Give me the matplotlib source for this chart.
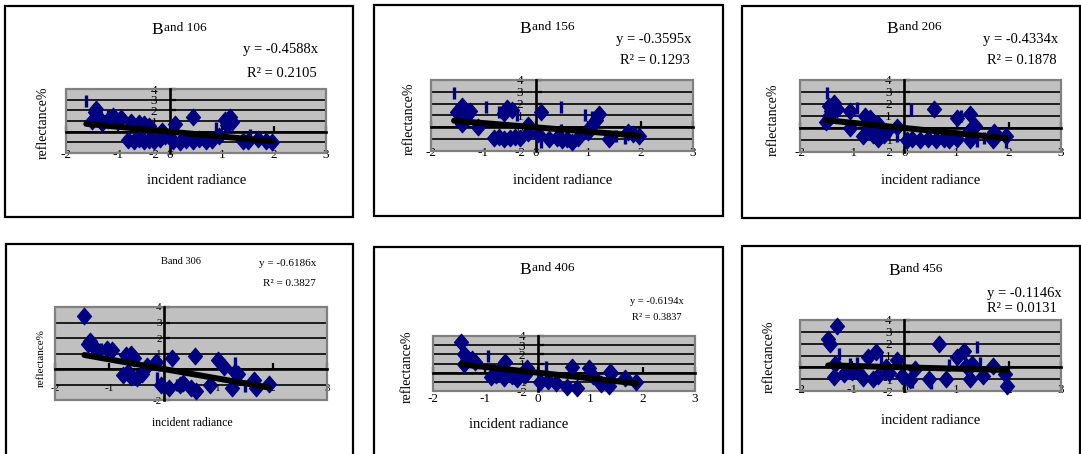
import matplotlib
matplotlib.use('Agg')
import matplotlib.pyplot as plt
from matplotlib.patches import Rectangle
from matplotlib.path import Path
import numpy as np

plt.rcParams['font.family'] = ['Liberation Serif', 'DejaVu Serif']
plt.rcParams['axes.unicode_minus'] = False

W, H = 1081, 454

# ---------------- data ----------------
bands = ["106", "156", "206", "306", "406", "456"]
slopes = [-0.4588, -0.3595, -0.4334, -0.6186, -0.6194, -0.1146]
r_squared = [0.2105, 0.1293, 0.1878, 0.3827, 0.3837, 0.0131]
x_ticks = [-2, -1, 0, 1, 2, 3]
y_ticks = [-2, -1, 0, 1, 2, 3, 4]
x_label = "incident radiance"
y_label = "reflectance%"

b106_x = [-1.45, -1.4, -1.35, -1.5, -1.3, -1.42, -1.1, -0.95, -1.2, -1.0, -0.75, -0.6, -0.5, -0.4,
          -0.8, -0.7, -0.6, -0.5, -0.4, -0.3, -0.2, -0.15, -0.1, 0.1, 0.45, 0.05, 0.2, 0.3, 0.45,
          0.55, 0.7, 0.8, 1.05, 1.15, 1.1, 1.2, 0.95, 1.4, 1.5, 1.7, 1.85, 1.97]
b106_y = [1.8, 1.5, 1.2, 1.0, 0.8, 2.1, 1.5, 1.3, 1.1, 1.0, 0.9, 0.8, 0.7, 0.5,
          -0.8, -0.9, -0.7, -0.9, -0.8, -0.9, -0.7, 0.1, -0.4, 0.7, 1.4, -0.9, -1.0, -0.8, -0.9,
          -0.7, -0.9, -0.8, 1.1, 1.4, 0.6, 0.9, -0.4, -0.9, -0.9, -0.7, -0.9, -1.0]
b106_bar_x = [-1.61, -1.2, -0.15, 0.89, 1.53]
b106_bar_y = [2.85, 1.5, -0.3, 0.3, -0.3]

b156_x = [-1.4, -1.35, -1.5, -1.3, -1.45, -1.4, -1.25, -1.1, -0.55, -0.45, -0.6, -0.8, -0.7, -0.6,
          -0.5, -0.4, -0.3, -0.15, -0.15, 0.05, 0.1, 0.25, 0.4, 0.5, 0.6, 0.7, 0.8, 1.2, 1.05, 1.0,
          1.15, 1.4, 1.75, 1.97, 1.85]
b156_y = [1.8, 1.5, 1.3, 1.1, 0.6, 0.3, 1.4, 0.0, 1.6, 1.5, 1.2, -0.9, -0.8, -1.0, -0.9, -0.8,
          -0.9, 0.2, -0.5, -0.6, 1.3, -1.0, -0.9, -1.1, -1.0, -1.2, -0.9, 1.1, 0.1, -0.4, 0.6,
          -1.0, -0.4, -0.7, -0.6]
b156_bar_x = [-1.56, -0.95, -0.7, -0.35, 0.1, 0.48, 0.93, 1.08, 1.53, 1.7, 0.48]
b156_bar_y = [2.9, 1.7, 1.3, 1.0, -1.2, 1.7, 1.0, 0.9, -0.7, -0.9, -0.2]

b206_x = [-1.45, -1.35, -1.4, -1.5, -1.45, -1.3, -1.05, -1.05, -0.75, -0.65, -0.6, -0.5, -0.7,
          -0.6, -0.5, -0.4, -0.35, -0.8, -0.15, 0.05, 0.15, 0.3, 0.45, 0.6, 0.75, 0.85, 1.0, 0.57,
          1.0, 1.25, 1.35, 1.25, 1.25, 1.72, 1.7, 1.95]
b206_y = [1.8, 2.1, 1.4, 0.5, 1.0, 1.6, 1.4, 0.0, 1.0, 0.8, 0.5, 0.3, -0.2, -0.6, -0.9, -0.6,
          -0.3, -0.7, 0.1, -1.0, -0.9, -1.0, -0.9, -1.0, -0.9, -1.0, -0.9, 1.6, 0.8, 1.2, 0.2,
          -0.2, -1.0, -0.3, -1.0, -0.7]
b206_bar_x = [-1.49, -0.9, -1.3, -0.15, 0.12, 1.08, 1.53, 1.4, 1.95]
b206_bar_y = [2.9, 1.7, 1.7, -0.7, 1.5, 1.0, -0.8, -1.1, -1.2]

b306_x = [-1.46, -1.35, -1.3, -1.4, -1.25, -1.05, -0.95, -0.7, -0.6, -0.55, -0.75, -0.6, -0.5,
          -0.65, -0.3, -0.15, -0.05, 0.15, 0.1, 0.35, 0.5, 0.6, 0.58, 0.85, 1.0, 1.1, 1.3, 1.37,
          1.25, 1.65, 1.7, 1.93, -0.4, 0.3]
b306_y = [3.4, 1.8, 1.5, 1.6, 1.3, 1.3, 1.2, 0.9, 1.0, 0.7, -0.4, -0.5, -0.6, -0.2, 0.2, 0.45,
          -1.0, 0.7, -1.2, -0.9, -1.2, -1.4, 0.85, -1.0, 0.55, 0.15, -0.2, -0.3, -1.2, -0.7,
          -1.2, -0.95, -0.3, -1.0]
b306_bar_x = [-1.15, -0.13, 1.3, -1.3, 0.25, 1.5]
b306_bar_y = [1.3, -0.6, 0.4, 1.3, -1.0, -1.1]

b406_x = [-1.46, -1.4, -1.35, -1.25, -1.4, -1.2, -0.63, -0.8, -0.65, -0.5, -0.4, -0.2, -0.25,
          0.05, 0.2, 0.35, 0.65, 0.55, 0.75, 0.98, 1.05, 1.2, 1.35, 1.4, 1.38, 1.67, 1.88,
          -0.7, -0.9]
b406_y = [3.4, 2.0, 1.6, 1.5, 1.0, 1.2, 1.2, -0.3, -0.6, -0.4, -0.7, 0.5, -0.2, -1.0, -0.9,
          -1.1, 0.6, -1.6, -1.7, 0.5, -0.4, -1.2, -1.4, 0.0, 0.1, -0.6, -1.0, 0.4, -0.5]
b406_bar_x = [-0.95, 0.16, -1.3]
b406_bar_y = [1.8, 0.6, 1.6]

b456_x = [-1.3, -1.46, -1.42, -1.33, -1.35, -1.15, -1.0, -0.7, -0.55, -0.8, -0.6, -0.5, -0.35,
          -0.15, -0.05, 0.1, 0.2, 0.47, 0.66, 0.8, 1.0, 1.15, 1.18, 1.25, 1.3, 1.5, 1.7, 1.93,
          1.97, -0.9, -0.3]
b456_y = [3.5, 2.4, 2.0, 0.3, -0.8, -0.6, -0.4, 0.9, 1.3, -0.9, -1.0, -0.7, 0.0, 0.6, -0.7,
          -1.1, -0.15, -1.0, 2.0, -1.0, 0.9, 1.4, 0.1, -1.0, 0.3, -0.7, 0.1, -0.6, -1.6, -0.3, -0.5]
b456_bar_x = [-1.26, -1.05, -0.9, 0.15, 0.5, 0.85, 1.4, 1.45, -0.45]
b456_bar_y = [1.1, 0.3, 0.4, -1.2, -1.3, 0.2, 1.7, 0.4, 0.8]

diamond_x = [b106_x, b156_x, b206_x, b306_x, b406_x, b456_x]
diamond_y = [b106_y, b156_y, b206_y, b306_y, b406_y, b456_y]
bar_x = [b106_bar_x, b156_bar_x, b206_bar_x, b306_bar_x, b406_bar_x, b456_bar_x]
bar_y = [b106_bar_y, b156_bar_y, b206_bar_y, b306_bar_y, b406_bar_y, b456_bar_y]

# ---------------- layout (pixels) ----------------
plot_boxes = [(66, 89, 326, 153), (431, 80, 693, 151), (800, 80, 1061, 152),
              (55, 307, 327, 400), (433, 336, 695, 391), (800, 320, 1061, 391)]
frames = [(5, 6, 353, 217), (374, 5, 723, 216), (742, 6, 1080, 218),
          (6, 244, 353, 470), (374, 247, 723, 470), (742, 246, 1080, 470)]
title_pos = [(179, 34, 31), (547, 33, 30), (914, 33, 30), (181, 264, 264), (547, 274, 271), (915, 275, 272)]
eq_pos = [(281, 50), (654, 39), (1021, 39), (288, 264), (657, 302), (1024, 293)]
r2_pos = [(282, 74), (655, 61), (1022, 61), (289, 283), (657, 318), (1022, 308)]
ylabel_pos = [(43, 123), (409, 119), (773, 120), (41, 358), (407, 367), (769, 357)]
xlabel_pos = [(197, 181), (563, 181), (931, 181), (192, 423), (519, 425), (931, 420)]
eq_size = [10.5, 10.5, 10.5, 8, 7.5, 10.5]
label_size = [10.5, 10.5, 10.5, 8.5, 10.5, 10.5]
tick_size = [9.5, 9.5, 9.5, 8, 9.5, 9.5]
xpad = [12.5, 14, 14, 10.5, 15, 12]

NAVY = '#000080'
diamond = Path([(0, 1), (0.85, 0), (0, -1), (-0.85, 0), (0, 1)],
               [Path.MOVETO, Path.LINETO, Path.LINETO, Path.LINETO, Path.CLOSEPOLY])


def fx(px):
    return px / W


def fy(py):
    return 1 - py / H


fig = plt.figure(figsize=(W / 100, H / 100), dpi=100)
fig.patch.set_facecolor('white')
renderer = fig.canvas.get_renderer()

for i in range(6):
    # frame
    l, t, r, b = frames[i]
    fig.add_artist(Rectangle((fx(l), fy(b)), (r - l) / W, (b - t) / H, transform=fig.transFigure,
                             fill=False, ec='black', lw=1.6))
    x0, y0, x1, y1 = plot_boxes[i]
    ax = fig.add_axes([fx(x0), fy(y1), (x1 - x0) / W, (y1 - y0) / H])
    ax.set_xlim(x_ticks[0], x_ticks[-1])
    ax.set_ylim(y_ticks[0], y_ticks[-1])
    ax.set_facecolor('#C0C0C0')
    ax.set_xticks(x_ticks)
    ax.set_xticklabels([str(v) for v in x_ticks])
    ax.set_yticks(y_ticks)
    ax.set_yticklabels([str(v) for v in y_ticks])
    ax.yaxis.grid(True, color='black', lw=1.2)
    for s in ['top', 'right']:
        ax.spines[s].set_visible(False)
    ax.spines['bottom'].set_position(('data', 0))
    ax.spines['left'].set_position(('data', 0))
    ax.spines['bottom'].set_linewidth(1.9)
    ax.spines['left'].set_linewidth(1.9)
    ax.add_patch(Rectangle((0, 0), 1, 1, transform=ax.transAxes, fill=False,
                           ec='#808080', lw=1.6, clip_on=False, zorder=2.4))
    ax.tick_params(axis='x', direction='in', length=4, width=1.6, labelsize=tick_size[i], pad=xpad[i])
    if i == 3:
        ax.tick_params(axis='y', direction='in', length=4, width=1.6, labelsize=tick_size[i], pad=1.5)
    else:
        ax.tick_params(axis='y', direction='in', length=4, width=1.6, labelsize=tick_size[i], pad=11.5)
        for lab in ax.get_yticklabels():
            lab.set_horizontalalignment('center')

    ax.plot(diamond_x[i], diamond_y[i], ls='none', marker=diamond, ms=12, mfc=NAVY, mec=NAVY,
            mew=0.8, clip_on=False, zorder=3)
    ax.plot(bar_x[i], bar_y[i], ls='none', marker='|', ms=9, mew=2.4, color=NAVY,
            clip_on=False, zorder=3)
    allx = np.array(diamond_x[i] + bar_x[i])
    tx = np.array([allx.min(), allx.max()])
    ax.plot(tx, slopes[i] * tx, color='black', lw=4.3, solid_capstyle='round', zorder=4, clip_on=False)

    # title
    cx, yb, yr = title_pos[i]
    if i == 3:
        fig.text(fx(cx), fy(yb), "Band " + bands[i], fontsize=7.5, ha='center', va='baseline')
    else:
        tB = fig.text(0, 0, "B", fontsize=12.5, ha='left', va='baseline')
        tR = fig.text(0, 0, "and " + bands[i], fontsize=9.5, ha='left', va='baseline')
        wB = tB.get_window_extent(renderer).width
        wR = tR.get_window_extent(renderer).width
        left = cx - (wB + wR) / 2
        tB.set_position((fx(left), fy(yb)))
        tR.set_position((fx(left + wB), fy(yr)))

    ex, ey = eq_pos[i]
    fig.text(fx(ex), fy(ey), "y = %.4fx" % slopes[i], fontsize=eq_size[i], ha='center', va='center')
    rx, ry = r2_pos[i]
    fig.text(fx(rx), fy(ry), "R\u00b2 = %.4f" % r_squared[i], fontsize=eq_size[i], ha='center', va='center')
    lx, ly = ylabel_pos[i]
    fig.text(fx(lx), fy(ly), y_label, fontsize=label_size[i] - 0.5, rotation=90,
             ha='center', va='center')
    xx, xy = xlabel_pos[i]
    fig.text(fx(xx), fy(xy), x_label, fontsize=label_size[i], ha='center', va='center')

fig.savefig('out.png', dpi=100)
